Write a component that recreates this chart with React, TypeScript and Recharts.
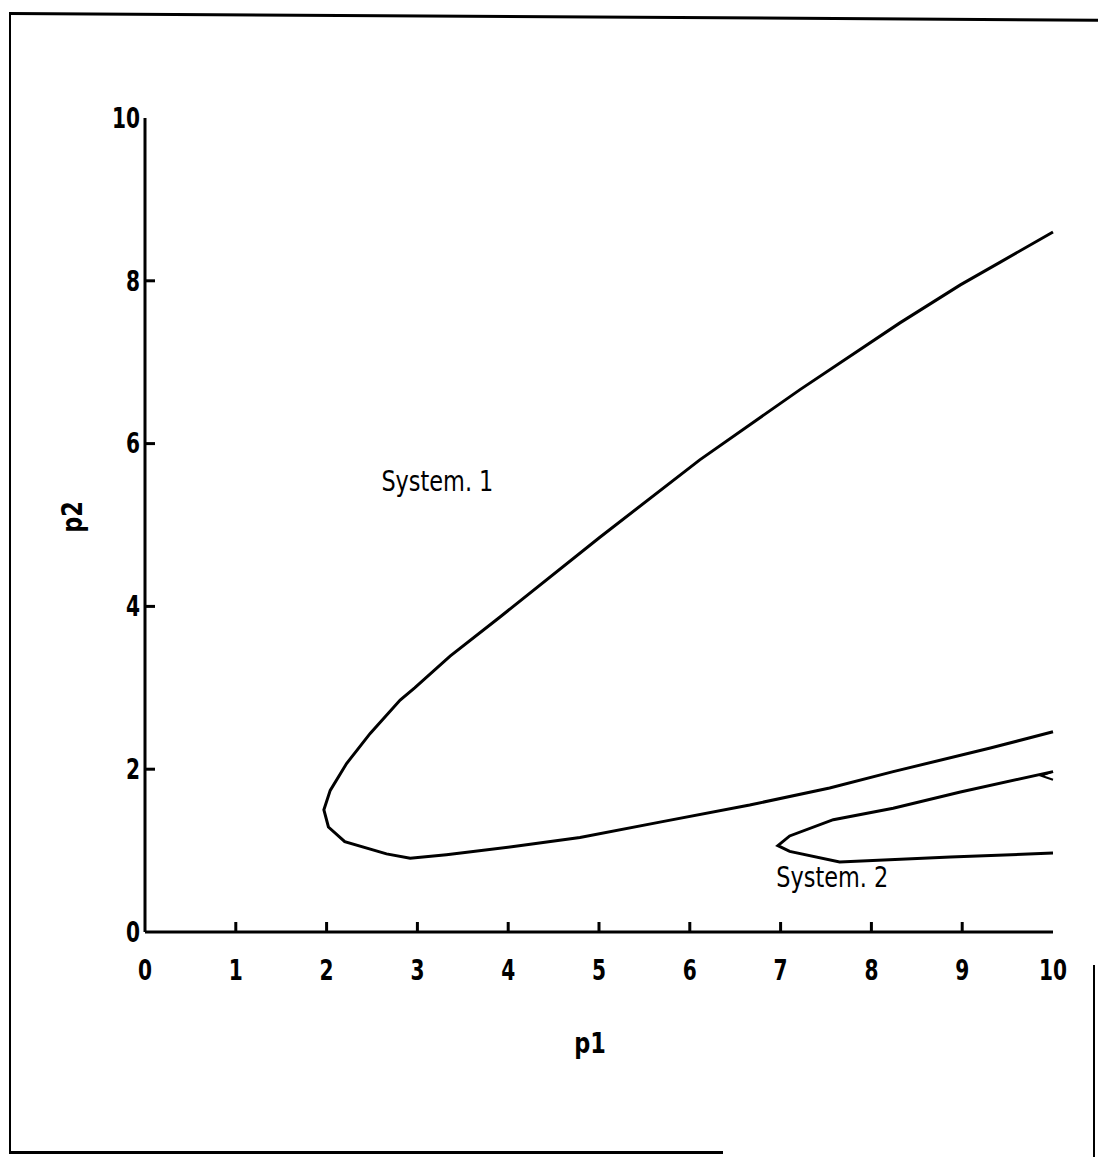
import { LineChart, Line, XAxis, YAxis, ReferenceDot } from "recharts";

// contour: System 1 boundary, traced from the top-right edge round the nose to the lower-right edge
const system1 = [
  { p1: 10, p2: 8.6 },
  { p1: 9.42, p2: 8.23 },
  { p1: 8.98, p2: 7.95 },
  { p1: 8.31, p2: 7.48 },
  { p1: 7.21, p2: 6.66 },
  { p1: 6.11, p2: 5.8 },
  { p1: 5.01, p2: 4.85 },
  { p1: 3.91, p2: 3.87 },
  { p1: 3.36, p2: 3.39 },
  { p1: 2.97, p2: 3.0 },
  { p1: 2.81, p2: 2.85 },
  { p1: 2.48, p2: 2.44 },
  { p1: 2.22, p2: 2.07 },
  { p1: 2.04, p2: 1.74 },
  { p1: 1.97, p2: 1.5 },
  { p1: 2.02, p2: 1.29 },
  { p1: 2.2, p2: 1.11 },
  { p1: 2.66, p2: 0.96 },
  { p1: 2.92, p2: 0.905 },
  { p1: 3.32, p2: 0.95 },
  { p1: 4.06, p2: 1.05 },
  { p1: 4.79, p2: 1.16 },
  { p1: 5.67, p2: 1.35 },
  { p1: 6.66, p2: 1.56 },
  { p1: 7.54, p2: 1.77 },
  { p1: 8.24, p2: 1.97 },
  { p1: 9.31, p2: 2.26 },
  { p1: 10, p2: 2.46 },
];

// contour: System 2 region
const system2 = [
  { p1: 10, p2: 1.97 },
  { p1: 8.98, p2: 1.72 },
  { p1: 8.24, p2: 1.52 },
  { p1: 7.58, p2: 1.38 },
  { p1: 7.1, p2: 1.18 },
  { p1: 6.97, p2: 1.06 },
  { p1: 7.1, p2: 0.99 },
  { p1: 7.65, p2: 0.86 },
  { p1: 8.87, p2: 0.92 },
  { p1: 10, p2: 0.97 },
];

// tiny closed contour touching the right edge
const sliver = [
  { p1: 10, p2: 1.97 },
  { p1: 9.87, p2: 1.92 },
  { p1: 10, p2: 1.87 },
];

const xTicks = [0, 1, 2, 3, 4, 5, 6, 7, 8, 9, 10];
const yTicks = [0, 2, 4, 6, 8, 10];

const regionLabels = [
  { p1: 3.22, p2: 5.54, text: "System. 1" },
  { p1: 7.57, p2: 0.68, text: "System. 2" },
];

const FONT = "'DejaVu Sans', sans-serif";
const INK = "#000";

// the plotter font is tall and narrow, so squeeze the glyphs sideways
const Narrow = ({ x, y, anchor = "middle", size = 28, weight = "bold", squeeze = 0.72, children }: any) => (
  <text
    transform={`translate(${x} ${y}) scale(${squeeze} 1)`}
    x={0}
    y={0}
    textAnchor={anchor}
    dominantBaseline="central"
    fontFamily={FONT}
    fontWeight={weight}
    fontSize={size}
    fill={INK}
  >
    {children}
  </text>
);

const BottomTick = ({ x, y, payload }: any) => {
  const v = payload.value;
  return (
    <g>
      {v > 0 && v < 10 && <line x1={x} x2={x} y1={y} y2={y - 10} stroke={INK} strokeWidth={3} />}
      <Narrow x={x} y={y + 38}>{v}</Narrow>
    </g>
  );
};

const LeftTick = ({ x, y, payload }: any) => {
  const v = payload.value;
  return (
    <g>
      {v > 0 && v < 10 && <line x1={x} x2={x + 10} y1={y} y2={y} stroke={INK} strokeWidth={3} />}
      <Narrow x={x - 5} y={y} anchor="end">{v}</Narrow>
    </g>
  );
};

const TopTick = ({ x, y, payload }: any) => {
  const v = payload.value;
  if (v <= 0 || v >= 10) return <g />;
  return <line x1={x} x2={x} y1={y} y2={y + 10} stroke={INK} strokeWidth={3} />;
};

const RightTick = ({ x, y, payload }: any) => {
  const v = payload.value;
  if (v <= 0 || v >= 10) return <g />;
  return <line x1={x} x2={x - 10} y1={y} y2={y} stroke={INK} strokeWidth={3} />;
};

const axisLine = { stroke: INK, strokeWidth: 3 };

export default function App() {
  return (
    <div style={{ position: "absolute", left: 0, top: 0, width: 1098, height: 1157, background: "#fff", overflow: "hidden" }}>
      {/* scanned page frame */}
      <div style={{ position: "absolute", left: 10, top: 12, width: 1100, height: 3, background: INK, transform: "rotate(0.35deg)", transformOrigin: "left top" }} />
      <div style={{ position: "absolute", left: 9, top: 12, width: 2, height: 1142, background: INK }} />
      <div style={{ position: "absolute", left: 9, top: 1151, width: 714, height: 3, background: INK }} />
      <div style={{ position: "absolute", left: 1093, top: 965, width: 2, height: 192, background: INK }} />

      <div style={{ position: "absolute", left: 0, top: 0 }}>
        <LineChart width={1098} height={1157} margin={{ top: 118, right: 45, bottom: 185, left: 105 }}>
          <XAxis
            xAxisId="b"
            type="number"
            dataKey="p1"
            domain={[0, 10]}
            ticks={xTicks}
            interval={0}
            height={40}
            tickSize={0}
            tickMargin={0}
            tickLine={false}
            axisLine={axisLine}
            tick={<BottomTick />}
            label={{
              content: ({ viewBox }: any) => (
                <Narrow x={viewBox.x + viewBox.width / 2 - 9} y={viewBox.y + 111} squeeze={0.8}>
                  p1
                </Narrow>
              ),
            }}
          />
          <XAxis
            xAxisId="t"
            orientation="top"
            type="number"
            dataKey="p1"
            domain={[0, 10]}
            ticks={xTicks}
            interval={0}
            height={0}
            tickSize={0}
            tickMargin={0}
            tickLine={false}
            axisLine={axisLine}
            tick={<TopTick />}
          />
          <YAxis
            yAxisId="l"
            type="number"
            domain={[0, 10]}
            ticks={yTicks}
            interval={0}
            width={40}
            tickSize={0}
            tickMargin={0}
            tickLine={false}
            axisLine={axisLine}
            tick={<LeftTick />}
            label={{
              content: ({ viewBox }: any) => {
                const cx = 72;
                const cy = viewBox.y + viewBox.height / 2 - 8;
                return (
                  <g transform={`rotate(-90 ${cx} ${cy})`}>
                    <Narrow x={cx} y={cy} squeeze={0.8}>p2</Narrow>
                  </g>
                );
              },
            }}
          />
          <YAxis
            yAxisId="r"
            orientation="right"
            type="number"
            domain={[0, 10]}
            ticks={yTicks}
            interval={0}
            width={0}
            tickSize={0}
            tickMargin={0}
            tickLine={false}
            axisLine={axisLine}
            tick={<RightTick />}
          />

          <Line xAxisId="b" yAxisId="l" data={system1} dataKey="p2" type="linear" stroke={INK} strokeWidth={3} dot={false} isAnimationActive={false} />
          <Line xAxisId="b" yAxisId="l" data={system2} dataKey="p2" type="linear" stroke={INK} strokeWidth={3} dot={false} isAnimationActive={false} />
          <Line xAxisId="b" yAxisId="l" data={sliver} dataKey="p2" type="linear" stroke={INK} strokeWidth={2} dot={false} isAnimationActive={false} />

          {regionLabels.map((l) => (
            <ReferenceDot
              key={l.text}
              xAxisId="b"
              yAxisId="l"
              x={l.p1}
              y={l.p2}
              r={0}
              fill="none"
              stroke="none"
              label={{
                content: ({ viewBox }: any) => (
                  <Narrow x={viewBox.x + viewBox.width / 2} y={viewBox.y + viewBox.height / 2} size={28} weight="normal" squeeze={0.8}>
                    {l.text}
                  </Narrow>
                ),
              }}
            />
          ))}
        </LineChart>
      </div>
    </div>
  );
}
